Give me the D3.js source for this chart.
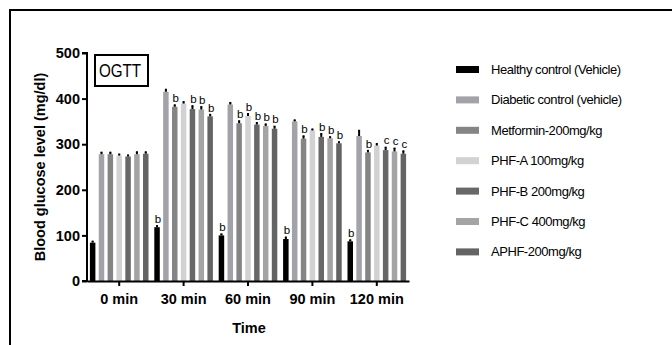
<!DOCTYPE html>
<html><head><meta charset="utf-8">
<script src="https://cdn.jsdelivr.net/npm/d3@7"></script>
<style>body{margin:0;background:#fff}svg{display:block}</style>
</head><body><svg id="c" width="672" height="345"></svg>
<script>
const categories = ["0 min","30 min","60 min","90 min","120 min"];
const seriesNames = ["Healthy control (Vehicle)","Diabetic control (vehicle)","Metformin-200mg/kg","PHF-A 100mg/kg","PHF-B 200mg/kg","PHF-C 400mg/kg","APHF-200mg/kg"];
const seriesColors = ["#000000","#a2a2a8","#858585","#d2d2d2","#686868","#a4a4a4","#646464"];
const healthy   = [84,118,100,92,87];
const diabetic  = [278,415,387,350,318];
const metformin = [278,382,346,312,282];
const phfA      = [275,389,362,330,297];
const phfB      = [273,377,343,316,287];
const phfC      = [278,376,340,313,284];
const aphf      = [279,361,334,302,279];
const errHealthy   = [3,3,3,4,3];
const errDiabetic  = [4,5,4,3,12];
const errMetformin = [4,4,5,6,4];
const errPhfA      = [3,4,5,3,4];
const errPhfB      = [3,7,4,7,6];
const errPhfC      = [5,6,4,3,7];
const errAphf      = [4,4,5,3,6];
const sigHealthy   = ["","b","b","b","b"];
const sigDiabetic  = ["","","","",""];
const sigMetformin = ["","b","b","b","b"];
const sigPhfA      = ["","","b","",""];
const sigPhfB      = ["","b","b","b","c"];
const sigPhfC      = ["","b","b","b","c"];
const sigAphf      = ["","b","b","b","c"];
const yTicks = [0,100,200,300,400,500];

const values = [healthy,diabetic,metformin,phfA,phfB,phfC,aphf];
const errs = [errHealthy,errDiabetic,errMetformin,errPhfA,errPhfB,errPhfC,errAphf];
const sigs = [sigHealthy,sigDiabetic,sigMetformin,sigPhfA,sigPhfB,sigPhfC,sigAphf];
const FONT = "Liberation Sans, Arial, sans-serif";

const svg = d3.select("#c");
// frame
svg.append("path").attr("d","M10,345V10H672").attr("fill","none").attr("stroke","#000").attr("stroke-width",2);

const x0 = d3.scaleBand().domain(categories).range([87,409]).paddingInner(0.09).paddingOuter(0.045);
const x1 = d3.scaleBand().domain(d3.range(7)).range([0,x0.bandwidth()]).paddingInner(0.38).paddingOuter(0);
const y = d3.scaleLinear().domain([0,500]).range([281,53]);

const g = svg.append("g");
categories.forEach((c,ci)=>{
  values.forEach((vals,si)=>{
    const bx = x0(c)+x1(si), bw = x1.bandwidth();
    const v = vals[ci], e = errs[si][ci];
    g.append("rect").attr("x",bx).attr("y",y(v)).attr("width",bw).attr("height",y(0)-y(v)).attr("fill",seriesColors[si]);
    g.append("line").attr("x1",bx+bw/2).attr("x2",bx+bw/2).attr("y1",y(v)).attr("y2",y(v+e)).attr("stroke","#000").attr("stroke-width",2);
    g.append("line").attr("x1",bx+bw/2-1).attr("x2",bx+bw/2+1).attr("y1",y(v+e)).attr("y2",y(v+e)).attr("stroke","#000").attr("stroke-width",1.5);
    const s = sigs[si][ci];
    if(s){
      g.append("text").attr("x",bx+bw/2+1).attr("y",y(v+e)-3).attr("text-anchor","middle")
        .attr("font-family",FONT).attr("font-size",11.5).attr("fill","#000").text(s);
    }
  });
});

// axes
const yAxis = svg.append("g").attr("transform","translate(87,0)")
  .call(d3.axisLeft(y).tickValues(yTicks).tickSize(5).tickPadding(2));
yAxis.select(".domain").attr("stroke-width",2).attr("d","M-5,"+y(500)+"H0V"+y(0)+"H-5");
yAxis.selectAll(".tick line").attr("stroke-width",2);
yAxis.selectAll("text").attr("font-family",FONT).attr("font-weight","bold").attr("font-size",14.5).attr("fill","#000");

const xAxis = svg.append("g").attr("transform","translate(0,281)")
  .call(d3.axisBottom(x0).tickSize(5).tickPadding(8).tickSizeOuter(0));
xAxis.select(".domain").attr("stroke-width",2);
xAxis.selectAll(".tick line").attr("stroke-width",2);
xAxis.selectAll("text").attr("font-family",FONT).attr("font-weight","bold").attr("font-size",14.5).attr("fill","#000");

svg.append("text").attr("x",249).attr("y",333).attr("text-anchor","middle")
  .attr("font-family",FONT).attr("font-weight","bold").attr("font-size",14.5).text("Time");
svg.append("text").attr("transform","translate(45,167) rotate(-90)").attr("text-anchor","middle")
  .attr("font-family",FONT).attr("font-weight","bold").attr("font-size",14.5).text("Blood glucose level (mg/dl)");

// OGTT box
svg.append("rect").attr("x",95).attr("y",55).attr("width",53).attr("height",31).attr("fill","#fff").attr("stroke","#000").attr("stroke-width",2);
svg.append("text").attr("transform","translate(120,77) scale(0.8,1)").attr("text-anchor","middle")
  .attr("font-family",FONT).attr("font-size",19).text("OGTT");

// legend
const lg = svg.append("g");
seriesNames.forEach((n,i)=>{
  const cy = 69.5 + i*30.4;
  lg.append("rect").attr("x",456).attr("y",cy-3.5).attr("width",23).attr("height",7).attr("fill",seriesColors[i]);
  lg.append("text").attr("x",491).attr("y",cy+4.5).attr("font-family",FONT)
    .attr("font-size",13).attr("letter-spacing",-0.45).text(n);
});
</script></body></html>
